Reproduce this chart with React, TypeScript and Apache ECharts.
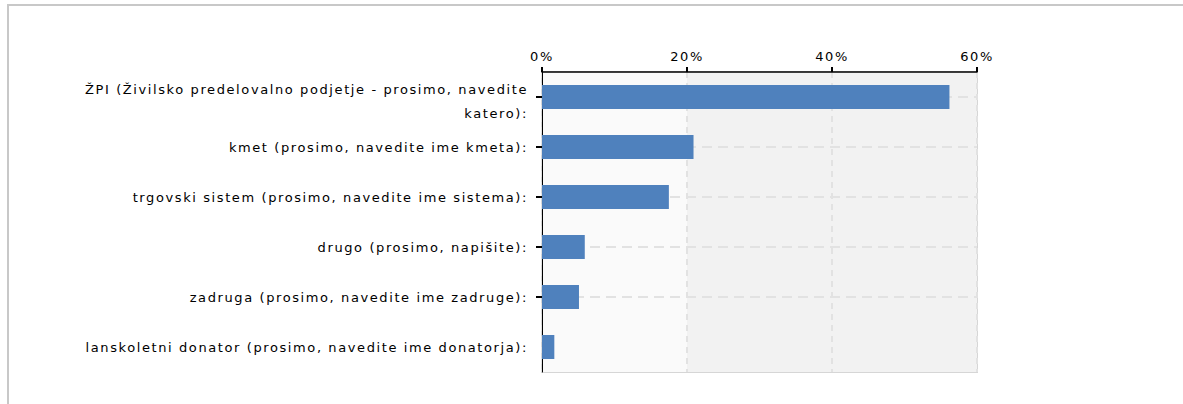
import React, { useEffect, useRef } from "react";
import * as echarts from "echarts";

const categories = [
  "ŽPI (Živilsko predelovalno podjetje - prosimo, navedite katero):",
  "kmet (prosimo, navedite ime kmeta):",
  "trgovski sistem (prosimo, navedite ime sistema):",
  "drugo (prosimo, napišite):",
  "zadruga (prosimo, navedite ime zadruge):",
  "lanskoletni donator (prosimo, navedite ime donatorja):",
];
const values = [56.2, 20.9, 17.5, 5.9, 5.1, 1.7];
const xTicks = { min: 0, max: 60, interval: 20 };
const gridRows = categories.slice(0, 5);

export default function App() {
  const ref = useRef<HTMLDivElement>(null);
  useEffect(() => {
    if (!ref.current) return;
    const chart = echarts.init(ref.current, null, { renderer: "svg" });
    const font = "'DejaVu Sans', Verdana, sans-serif";
    chart.setOption({
      animation: false,
      backgroundColor: "#ffffff",
      textStyle: { fontFamily: font },
      graphic: [
        {
          type: "rect",
          shape: { x: 8, y: 5, width: 1200, height: 420 },
          style: { fill: "none", stroke: "#c8c8c8", lineWidth: 2 },
          silent: true,
        },
      ],
      grid: {
        left: 542,
        top: 72,
        right: 206,
        bottom: 32,
        show: true,
        backgroundColor: "#f5f5f5",
        borderColor: "#d6d6d6",
        borderWidth: 2,
      },
      xAxis: {
        type: "value",
        position: "top",
        min: xTicks.min,
        max: xTicks.max,
        interval: xTicks.interval,
        axisLine: { show: true, lineStyle: { color: "#000", width: 1.5 } },
        axisTick: { show: true, length: 5, lineStyle: { color: "#000", width: 2 } },
        axisLabel: {
          formatter: "{value}%",
          color: "#000",
          fontSize: 13,
          margin: 9,
          fontFamily: font,
        },
        splitLine: {
          show: true,
          lineStyle: { color: "#e2e2e2", type: [6, 5], width: 2 },
        },
        splitArea: {
          show: true,
          areaStyle: { color: ["#fafafa", "#f2f2f2", "#f2f2f2"] },
        },
      },
      yAxis: {
        type: "category",
        inverse: true,
        data: categories,
        axisLine: { show: true, lineStyle: { color: "#000", width: 1 } },
        axisTick: {
          show: true,
          alignWithLabel: true,
          length: 6,
          interval: (index: number) => index < gridRows.length,
          lineStyle: { color: "#000", width: 2 },
        },
        axisLabel: {
          color: "#000",
          fontSize: 13,
          margin: 14,
          lineHeight: 24,
          fontFamily: font,
          formatter: (v: string) => {
            const i = v.indexOf(" katero");
            if (i < 0) return v;
            return `{s| }\n{t|${v.slice(0, i)}}\n{t|${v.slice(i + 1)}}`;
          },
          rich: {
            s: { fontSize: 2, lineHeight: 8 },
            t: { fontSize: 13, lineHeight: 24, color: "#000", fontFamily: font },
          },
        },
        splitLine: { show: false },
      },
      series: [
        {
          type: "bar",
          data: values,
          barWidth: 24,
          itemStyle: { color: "#4f81bd" },
          markLine: {
            silent: true,
            z: 1,
            symbol: "none",
            label: { show: false },
            lineStyle: { color: "#e2e2e2", type: [10, 6], width: 2 },
            data: gridRows.map((c) => ({ yAxis: c })),
          },
        },
      ],
    });
    return () => chart.dispose();
  }, []);
  return (
    <div
      className="chartwrap"
      style={{
        position: "fixed",
        left: 0,
        top: 0,
        width: 1183,
        height: 404,
        background: "#fff",
      }}
    >
      <style>{`.chartwrap svg text { letter-spacing: 1.6px; }`}</style>
      <div ref={ref} style={{ width: 1183, height: 404 }} />
    </div>
  );
}
